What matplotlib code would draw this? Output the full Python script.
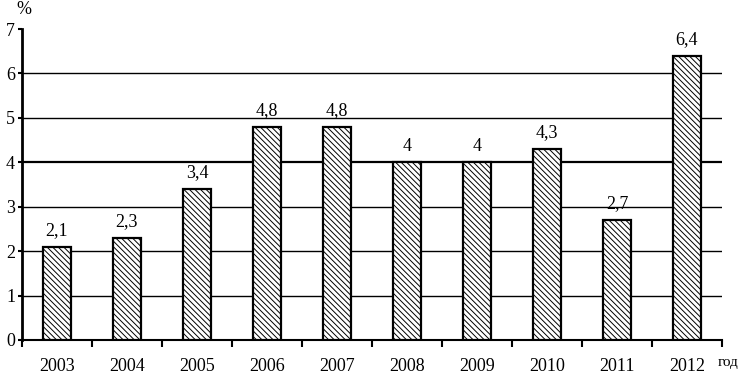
import matplotlib
matplotlib.use("Agg")
from matplotlib import pyplot as plt

years = ['2003', '2004', '2005', '2006', '2007', '2008', '2009', '2010', '2011', '2012']
values = [2.1, 2.3, 3.4, 4.8, 4.8, 4.0, 4.0, 4.3, 2.7, 6.4]
yticks = [0, 1, 2, 3, 4, 5, 6, 7]

plt.rcParams['font.family'] = ['Liberation Serif', 'DejaVu Serif']
plt.rcParams['hatch.linewidth'] = 0.7

fig = plt.figure(figsize=(7.44, 3.74), dpi=100)
ax = fig.add_axes([22/744, 34/374, 700/744, 311/374])

x = range(len(years))
ax.bar(x, values, width=0.4, color='white', edgecolor='black',
       linewidth=1.6, hatch='\\\\\\\\\\\\', zorder=3)

for i, v in enumerate(values):
    lab = ('%g' % v).replace('.', ',')
    ax.text(i, v + 0.17, lab, ha='center', va='bottom', fontsize=13)

ax.set_xlim(-0.5, len(years) - 0.5)
ax.set_ylim(0, 7)
ax.set_yticks(yticks)
ax.set_yticklabels([str(t) for t in yticks], fontsize=13)
for t in yticks[1:-1]:
    ax.axhline(t, color='black', linewidth=1.6 if t == 4 else 1.0, zorder=1)

ax.set_xticks([i - 0.5 for i in range(len(years) + 1)], minor=False)
ax.set_xticklabels([])
ax.set_xticks(list(x), minor=True)
ax.set_xticklabels(years, minor=True, fontsize=13)
ax.tick_params(axis='x', which='major', direction='out', length=5, width=1.5)
ax.tick_params(axis='x', which='minor', length=0, pad=13)
ax.tick_params(axis='y', direction='out', length=3, width=1.5, pad=2)

for s in ['top', 'right']:
    ax.spines[s].set_visible(False)
ax.spines['left'].set_linewidth(2)
ax.spines['bottom'].set_linewidth(1.5)

fig.text(16/744, 1 - 1/374, '%', fontsize=13, va='top', ha='left')
fig.text(718/744, 1 - 366/374, 'год', fontsize=11, va='baseline', ha='left')

fig.savefig('out.png', dpi=100)
